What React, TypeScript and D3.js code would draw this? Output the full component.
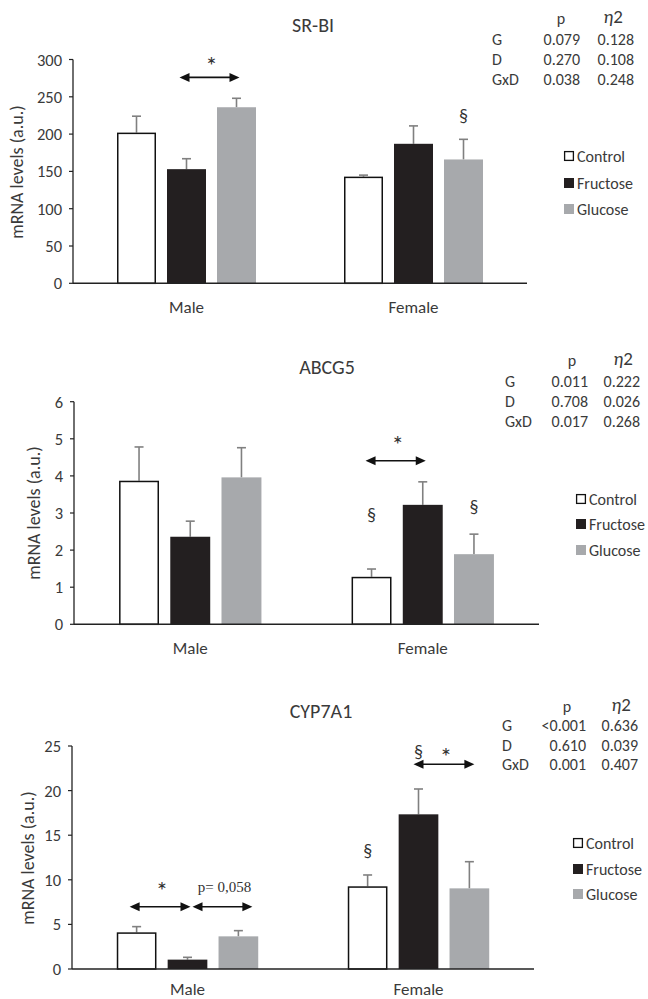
import React from "react";
import * as d3 from "d3";

// categories
const groups = ["Male", "Female"];
const diets = ["Control", "Fructose", "Glucose"];
const dietFill = ["#ffffff", "#231f20", "#a7a9ac"];

// SR-BI
const srbiMean = [[202, 153, 236], [143, 187, 166]];
const srbiSem = [[22, 14, 12], [2, 24, 27]];
const srbiTicks = [0, 50, 100, 150, 200, 250, 300];
const srbiStats = [["G", "0.079", "0.128"], ["D", "0.270", "0.108"], ["GxD", "0.038", "0.248"]];

// ABCG5
const abcg5Mean = [[3.87, 2.36, 3.96], [1.28, 3.22, 1.89]];
const abcg5Sem = [[0.91, 0.42, 0.8], [0.21, 0.62, 0.54]];
const abcg5Ticks = [0, 1, 2, 3, 4, 5, 6];
const abcg5Stats = [["G", "0.011", "0.222"], ["D", "0.708", "0.026"], ["GxD", "0.017", "0.268"]];

// CYP7A1
const cypMean = [[4.11, 1.05, 3.66], [9.27, 17.34, 9.04]];
const cypSem = [[0.64, 0.26, 0.64], [1.27, 2.84, 2.99]];
const cypTicks = [0, 5, 10, 15, 20, 25];
const cypStats = [["G", "<0.001", "0.636"], ["D", "0.610", "0.039"], ["GxD", "0.001", "0.407"]];

// annotations: group, from diet, to diet, value level
const srbiArrows = [{ g: 0, a: 1, b: 2, v: 276, dxa: -7, dxb: 3, label: "*", lv: 281 }];
const srbiMarks = [{ g: 1, d: 2, v: 216 }];
const abcg5Arrows = [{ g: 1, a: 0, b: 1, v: 4.41, dxa: -6, dxb: 3, label: "*", lv: 4.62 }];
const abcg5Marks = [{ g: 1, d: 0, v: 2.78 }, { g: 1, d: 2, v: 3.0 }];
const cypArrows = [
  { g: 0, a: 0, b: 1, v: 6.98, dxa: -7, dxb: 3, label: "*", lv: 7.8 },
  { g: 0, a: 1, b: 2, v: 6.98, dxa: 5, dxb: 14, label: "p= 0,058", lv: 8.6 },
  { g: 1, a: 1, b: 2, v: 22.95, dxa: -5, dxb: 5, label: "*", lv: 22.9 },
];
const cypMarks = [{ g: 1, d: 0, v: 12.6 }, { g: 1, d: 1, v: 23.7 }];

const panels = [
  {
    title: "SR-BI", mean: srbiMean, sem: srbiSem, ticks: srbiTicks, stats: srbiStats,
    arrows: srbiArrows, marks: srbiMarks,
    x0: 73, x1: 527, yTop: 59.5, yBot: 283.3, titleX: 313, titleY: 25,
    labelX: 17, labelY: 172, catY: 307, legendX: 564, legendY: [156, 183, 209],
    st: { lx: 492, px: 580, ex: 634, pcx: 561, ecx: 613, hy: 18, ry: [39, 59, 79] },
  },
  {
    title: "ABCG5", mean: abcg5Mean, sem: abcg5Sem, ticks: abcg5Ticks, stats: abcg5Stats,
    arrows: abcg5Arrows, marks: abcg5Marks,
    x0: 74, x1: 539, yTop: 401.7, yBot: 624.3, titleX: 327, titleY: 367,
    labelX: 34, labelY: 513, catY: 648, legendX: 576, legendY: [499, 524, 550],
    st: { lx: 505, px: 588, ex: 640, pcx: 572, ecx: 623, hy: 360, ry: [381, 401, 421] },
  },
  {
    title: "CYP7A1", mean: cypMean, sem: cypSem, ticks: cypTicks, stats: cypStats,
    arrows: cypArrows, marks: cypMarks,
    x0: 72, x1: 534, yTop: 746, yBot: 969, titleX: 321, titleY: 711,
    labelX: 28, labelY: 858, catY: 989, legendX: 573, legendY: [843, 869, 894],
    st: { lx: 502, px: 586, ex: 638, pcx: 567, ecx: 621, hy: 706, ry: [725, 745, 764] },
  },
];

const font = "Carlito, Calibri, Lato, sans-serif";
const ink = "#3a3a3a";

function Panel({ p }: { p: (typeof panels)[number] }) {
  const max = p.ticks[p.ticks.length - 1];
  const y = d3.scaleLinear().domain([0, max]).range([p.yBot, p.yTop]);
  const gx = d3.scaleBand().domain(groups).range([p.x0, p.x1]).padding(0);
  const dx = d3
    .scaleBand()
    .domain(diets)
    .range([0, gx.bandwidth()])
    .paddingInner(0.22)
    .paddingOuter(0.88);
  const bw = dx.bandwidth();
  const cx = (g: number, d: number) => (gx(groups[g]) as number) + (dx(diets[d]) as number) + bw / 2;

  return (
    <g fontFamily={font}>
      <text x={p.titleX} y={p.titleY} textAnchor="middle" dominantBaseline="central" fontSize={20} fill={ink}>
        {p.title}
      </text>

      {/* bars */}
      {groups.map((g, gi) =>
        diets.map((d, di) => {
          const m = p.mean[gi][di];
          const s = p.sem[gi][di];
          const x = cx(gi, di);
          const ctrl = di === 0;
          return (
            <g key={g + d}>
              <line x1={x} x2={x} y1={y(m)} y2={y(m + s)} stroke="#808080" strokeWidth={1.6} />
              <line x1={x - 4.5} x2={x + 4.5} y1={y(m + s)} y2={y(m + s)} stroke="#808080" strokeWidth={1.6} />
              <rect
                x={x - bw / 2 + (ctrl ? 0.75 : 0)}
                y={y(m) + (ctrl ? 0.75 : 0)}
                width={bw - (ctrl ? 1.5 : 0)}
                height={p.yBot - y(m) - (ctrl ? 0.75 : 0)}
                fill={dietFill[di]}
                stroke={ctrl ? "#111" : "none"}
                strokeWidth={1.5}
              />
            </g>
          );
        })
      )}

      {/* axes */}
      <line x1={p.x0} x2={p.x1} y1={p.yBot} y2={p.yBot} stroke="#222" strokeWidth={1.5} />
      <line x1={p.x0} x2={p.x0} y1={p.yTop} y2={p.yBot} stroke="#222" strokeWidth={1.3} />
      {p.ticks.map((t) => (
        <g key={t}>
          <line x1={p.x0 - 4} x2={p.x0} y1={y(t)} y2={y(t)} stroke="#222" strokeWidth={1.2} />
          <text x={p.x0 - 11} y={y(t)} textAnchor="end" dominantBaseline="central" fontSize={16.5} fill={ink}>
            {t}
          </text>
        </g>
      ))}
      {groups.map((g) => (
        <text key={g} x={(gx(g) as number) + gx.bandwidth() / 2} y={p.catY} textAnchor="middle" dominantBaseline="central" fontSize={17} fill={ink}>
          {g}
        </text>
      ))}
      <text
        transform={`translate(${p.labelX},${p.labelY}) rotate(-90)`}
        textAnchor="middle"
        dominantBaseline="central"
        fontSize={18}
        fill={ink}
      >
        mRNA levels (a.u.)
      </text>

      {/* annotations */}
      {p.arrows.map((a, i) => {
        const xa = cx(a.g, a.a) + a.dxa;
        const xb = cx(a.g, a.b) + a.dxb;
        const ya = y(a.v);
        const serif = a.label !== "*";
        return (
          <g key={i}>
            <line x1={xa + 6} x2={xb - 6} y1={ya} y2={ya} stroke="#111" strokeWidth={1.6} />
            <path d={`M${xa},${ya} L${xa + 10},${ya - 4.5} L${xa + 10},${ya + 4.5} Z`} fill="#111" />
            <path d={`M${xb},${ya} L${xb - 10},${ya - 4.5} L${xb - 10},${ya + 4.5} Z`} fill="#111" />
            <text
              x={(xa + xb) / 2 + 2}
              y={y(a.lv)}
              textAnchor="middle"
              fontSize={serif ? 15 : 25}
              fontFamily={serif ? "'Liberation Serif', 'Times New Roman', serif" : font}
              fill="#333"
            >
              {a.label}
            </text>
          </g>
        );
      })}
      {p.marks.map((m, i) => (
        <text key={i} x={cx(m.g, m.d)} y={y(m.v)} textAnchor="middle" fontSize={18} fill="#333">
          §
        </text>
      ))}

      {/* legend */}
      {diets.map((d, di) => (
        <g key={d}>
          <rect
            x={p.legendX + 0.6}
            y={p.legendY[di] - 4.4}
            width={di === 0 ? 8.8 : 10}
            height={di === 0 ? 8.8 : 10}
            transform={di === 0 ? "" : "translate(-0.6,-0.6)"}
            fill={dietFill[di]}
            stroke={di === 0 ? "#111" : "none"}
            strokeWidth={1.3}
          />
          <text x={p.legendX + 13} y={p.legendY[di]} dominantBaseline="central" fontSize={16} fill={ink}>
            {d}
          </text>
        </g>
      ))}

      {/* stats table */}
      <text x={p.st.pcx} y={p.st.hy} textAnchor="middle" dominantBaseline="central" fontSize={16} fill={ink}>
        p
      </text>
      <text x={p.st.ecx} y={p.st.hy - 2} textAnchor="middle" dominantBaseline="central" fontSize={19} fill={ink}>
        <tspan fontStyle="italic">η</tspan>2
      </text>
      {p.stats.map((r, ri) => (
        <g key={r[0]}>
          <text x={p.st.lx} y={p.st.ry[ri]} dominantBaseline="central" fontSize={16} fill={ink}>
            {r[0]}
          </text>
          <text x={p.st.px} y={p.st.ry[ri]} textAnchor="end" dominantBaseline="central" fontSize={16} fill={ink}>
            {r[1]}
          </text>
          <text x={p.st.ex} y={p.st.ry[ri]} textAnchor="end" dominantBaseline="central" fontSize={16} fill={ink}>
            {r[2]}
          </text>
        </g>
      ))}
    </g>
  );
}

export default function App() {
  return (
    <svg
      width={648}
      height={999}
      viewBox="0 0 648 999"
      style={{ position: "absolute", left: 0, top: 0, background: "#fff" }}
    >
      <rect width={648} height={999} fill="#fff" />
      {panels.map((p) => (
        <Panel key={p.title} p={p} />
      ))}
    </svg>
  );
}
